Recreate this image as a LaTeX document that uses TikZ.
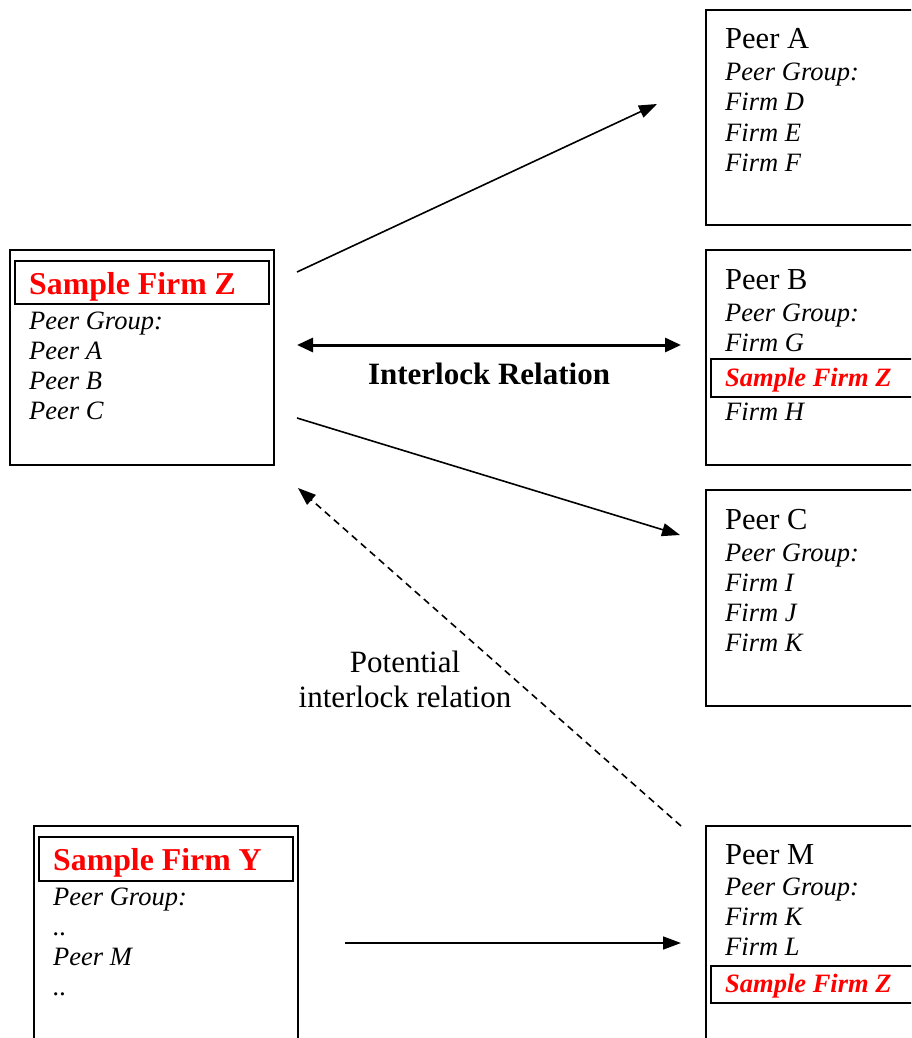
\documentclass[tikz,border=0pt]{standalone}
\usepackage{fontspec}
\setmainfont{Liberation Serif}
\usetikzlibrary{arrows.meta}
\definecolor{fred}{RGB}{255,0,0}
\tikzset{
  box/.style={draw, line width=2.2pt, rectangle, anchor=north west, inner sep=0pt},
  ital/.style={anchor=base west, inner sep=0pt, font=\fontsize{26.5}{30}\selectfont\itshape},
  head/.style={anchor=base west, inner sep=0pt, font=\fontsize{30.5}{34}\selectfont},
  redbold/.style={anchor=base west, inner sep=0pt, text=fred, font=\fontsize{31.8}{34}\selectfont\bfseries},
  reditbold/.style={anchor=base west, inner sep=0pt, text=fred, font=\fontsize{26.5}{30}\selectfont\bfseries\itshape},
  conn/.style={line width=1.6pt, -{Triangle[length=18pt,width=13pt]}},
  lbl/.style={inner sep=0pt, font=\fontsize{31}{35}\selectfont},
}
\begin{document}
\begin{tikzpicture}[x=1pt,y=-1pt]
\clip (0,0) rectangle (911,1038);
\fill[white] (0,0) rectangle (911,1038);

% Sample Firm Z (left)
\node[box, minimum width=264, minimum height=215] (zbox) at (9,249) {};
\node[box, minimum width=254, minimum height=43] (zhead) at (14,260) {};
\node[redbold] (zt) at (29,294) {Sample Firm Z};
\node[ital] (zg) at (29,329) {Peer Group:};
\node[ital] (z1) at (29,359) {Peer A};
\node[ital] (z2) at (29,389) {Peer B};
\node[ital] (z3) at (29,419) {Peer C};

% Peer A
\node[box, minimum width=230, minimum height=215] (abox) at (705,9) {};
\node[head] (at) at (725,49) {Peer A};
\node[ital] (ag) at (725,81) {Peer Group:};
\node[ital] (a1) at (725,111) {Firm D};
\node[ital] (a2) at (725,141) {Firm E};
\node[ital] (a3) at (725,171) {Firm F};

% Peer B
\node[box, minimum width=230, minimum height=215] (bbox) at (705,249) {};
\node[head] (bt) at (725,289) {Peer B};
\node[ital] (bg) at (725,321) {Peer Group:};
\node[ital] (b1) at (725,351) {Firm G};
\node[box, minimum width=230, minimum height=38] (bz) at (710,358) {};
\node[reditbold] (bzt) at (725,386) {Sample Firm Z};
\node[ital] (b2) at (725,420) {Firm H};

% Peer C
\node[box, minimum width=230, minimum height=216] (cbox) at (705,489) {};
\node[head] (ct) at (725,529) {Peer C};
\node[ital] (cg) at (725,561) {Peer Group:};
\node[ital] (c1) at (725,591) {Firm I};
\node[ital] (c2) at (725,621) {Firm J};
\node[ital] (c3) at (725,651) {Firm K};

% Peer M
\node[box, minimum width=230, minimum height=250] (mbox) at (705,825) {};
\node[head] (mt) at (725,864) {Peer M};
\node[ital] (mg) at (725,895) {Peer Group:};
\node[ital] (m1) at (725,925) {Firm K};
\node[ital] (m2) at (725,955) {Firm L};
\node[box, minimum width=230, minimum height=37] (mz) at (710,965) {};
\node[reditbold] (mzt) at (725,992) {Sample Firm Z};

% Sample Firm Y
\node[box, minimum width=264, minimum height=250] (ybox) at (33,825) {};
\node[box, minimum width=254, minimum height=44] (yhead) at (38,836) {};
\node[redbold] (yt) at (53,870) {Sample Firm Y};
\node[ital] (yg) at (53,905) {Peer Group:};
\node[ital] (y1) at (53,935) {..};
\node[ital] (y2) at (53,965) {Peer M};
\node[ital] (y3) at (53,995) {..};

% connector ends
\coordinate (a1s) at (297,272);
\coordinate (a1e) at (657,104);
\coordinate (a2s) at (297,345);
\coordinate (a2e) at (681,345);
\coordinate (a3s) at (297,418);
\coordinate (a3e) at (680,535);
\coordinate (a4s) at (681,826);
\coordinate (a4e) at (298,488);
\coordinate (a5s) at (345,943);
\coordinate (a5e) at (681,943);

\draw[conn] (a1s) -- (a1e);
\draw[line width=3pt, {Triangle[length=16pt,width=14pt]}-{Triangle[length=16pt,width=14pt]}] (a2s) -- (a2e);
\draw[conn] (a3s) -- (a3e);
\draw[conn, dash pattern=on 7pt off 5pt] (a4s) -- (a4e);
\draw[conn] (a5s) -- (a5e);

\node[lbl, anchor=base, font=\fontsize{31}{35}\selectfont\bfseries] (il) at (489,384) {Interlock Relation};
\node[lbl, anchor=base] (pl1) at (405,672) {Potential};
\node[lbl, anchor=base] (pl2) at (405,707) {interlock relation};
\end{tikzpicture}
\end{document}
